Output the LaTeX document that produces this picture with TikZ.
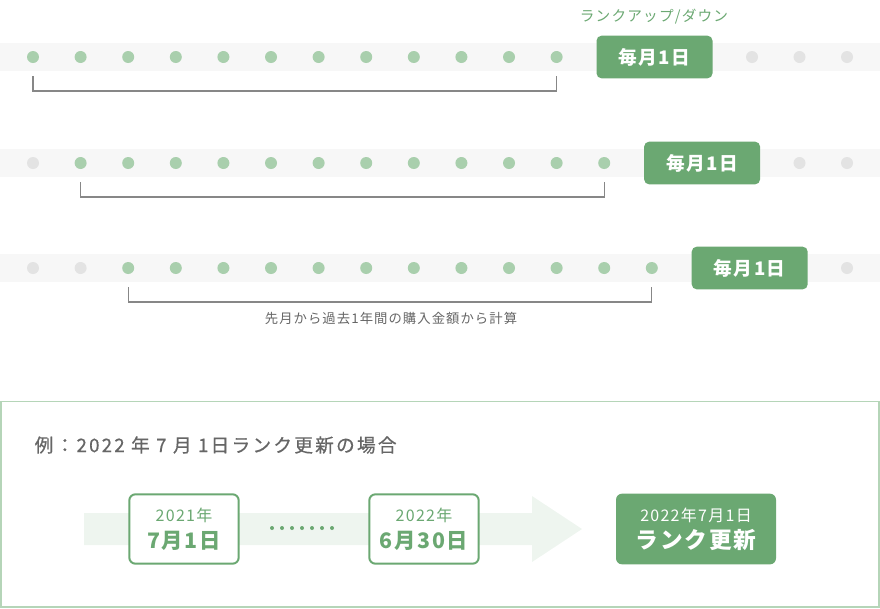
\documentclass[tikz,border=0pt]{standalone}
\usepackage{fontspec}
\setmainfont{Noto Sans CJK JP}
\newfontfamily\spaced[LetterSpace=8]{Noto Sans CJK JP}
\newfontfamily\titlefont[LetterSpace=12,FakeBold=0.6]{Noto Sans CJK JP}
\usepackage{tikz}
\usepackage{xcolor}
\usetikzlibrary{positioning, arrows.meta}
\usetikzlibrary{backgrounds,calc}

\begin{document}
\begin{tikzpicture}[x=0.75pt,y=-0.75pt]
        % colori
        \definecolor{rank}{RGB}{107,168,114}
        \definecolor{dotg}{RGB}{169,207,173}
        \definecolor{dotx}{RGB}{227,227,227}
        \definecolor{band}{RGB}{247,247,247}
        \definecolor{arrowband}{RGB}{238,245,239}
        \definecolor{frame}{RGB}{181,213,184}
        \definecolor{txt}{RGB}{102,102,102}
        \tikzset{
          dotgreen/.style={circle, fill=dotg, inner sep=0pt, minimum size=9pt},
          dotgray/.style={circle, fill=dotx, inner sep=0pt, minimum size=9pt},
          daybox/.style={fill=rank, rounded corners=3.75pt, text=white, font=\spaced\fontsize{14}{16}\selectfont\bfseries, minimum width=87pt, minimum height=32pt},
          bracket/.style={draw=black!47, line width=0.9pt},
          datebox/.style={draw=rank, line width=1.5pt, fill=white, rounded corners=4.5pt, text=rank, align=center, font=\spaced\fontsize{12}{20}\selectfont, minimum width=82pt, minimum height=52pt},
          rankbox/.style={fill=rank, rounded corners=4.5pt, text=white, align=center, font=\spaced\fontsize{12}{20}\selectfont, minimum width=120pt, minimum height=53pt}
        }
        \useasboundingbox (0,0) rectangle (880,608);

        % tre righe con i punti mensili
        \foreach \r/\yy/\s in {1/57/0, 2/163/1, 3/268/2}{
          \fill[band] (0,\yy-14) rectangle (880,\yy+14);
          \foreach \i in {0,...,17}{
            \pgfmathtruncatemacro{\e}{\s+11}
            \pgfmathtruncatemacro{\g}{\s+15}
            \ifnum\i<\s
              \node[dotgray] (d\r-\i) at (33+47.6*\i,\yy) {};
            \else\ifnum\i>\e
              \ifnum\i<\g\else
                \node[dotgray] (d\r-\i) at (847-47.5*17+47.5*\i,\yy) {};
              \fi
            \else
              \node[dotgreen] (d\r-\i) at (33+47.6*\i,\yy) {};
            \fi\fi
          }
          \node[daybox] (box\r) at (654.5+47.6*\s,\yy) {毎月1日};
          \pgfmathtruncatemacro{\e}{\s+11}
          \draw[bracket] ([yshift=-14.25pt]d\r-\s.center) |- ([yshift=-25.5pt]d\r-\e.center) -- ([yshift=-14.25pt]d\r-\e.center);
        }
        \node (updown) at (654,17) [text=rank, font=\spaced\fontsize{11}{13}\selectfont]{ランクアップ/ダウン};
        \node (period) at (391,318) [text=txt, font=\spaced\fontsize{10}{12}\selectfont]{先月から過去1年間の購入金額から計算};

        % esempio
        \draw[frame, line width=1.1pt] (1,401.5) rectangle (879,607);
        \node (title) at (30,445) [anchor=west, text=txt, font=\titlefont\fontsize{14}{16}\selectfont]{例：2022 年 7 月 1日ランク更新の場合};
        \fill[arrowband] (84,513) -- (532,513) -- (532,496) -- (582,529) -- (532,562) -- (532,545) -- (84,545) -- cycle;
        \node[datebox] (start) at (184,529) {2021年\\{\fontsize{16}{18}\selectfont\bfseries 7月1日}};
        \node[datebox] (end) at (424,529) {2022年\\{\fontsize{16}{18}\selectfont\bfseries 6月30日}};
        \foreach \k in {0,...,6}
          \fill[rank] (272+10*\k,528) circle (1.5pt);
        \node[rankbox] (update) at (696,529) {2022年7月1日\\{\fontsize{17}{19}\selectfont\bfseries ランク更新}};
\end{tikzpicture}
\end{document}
